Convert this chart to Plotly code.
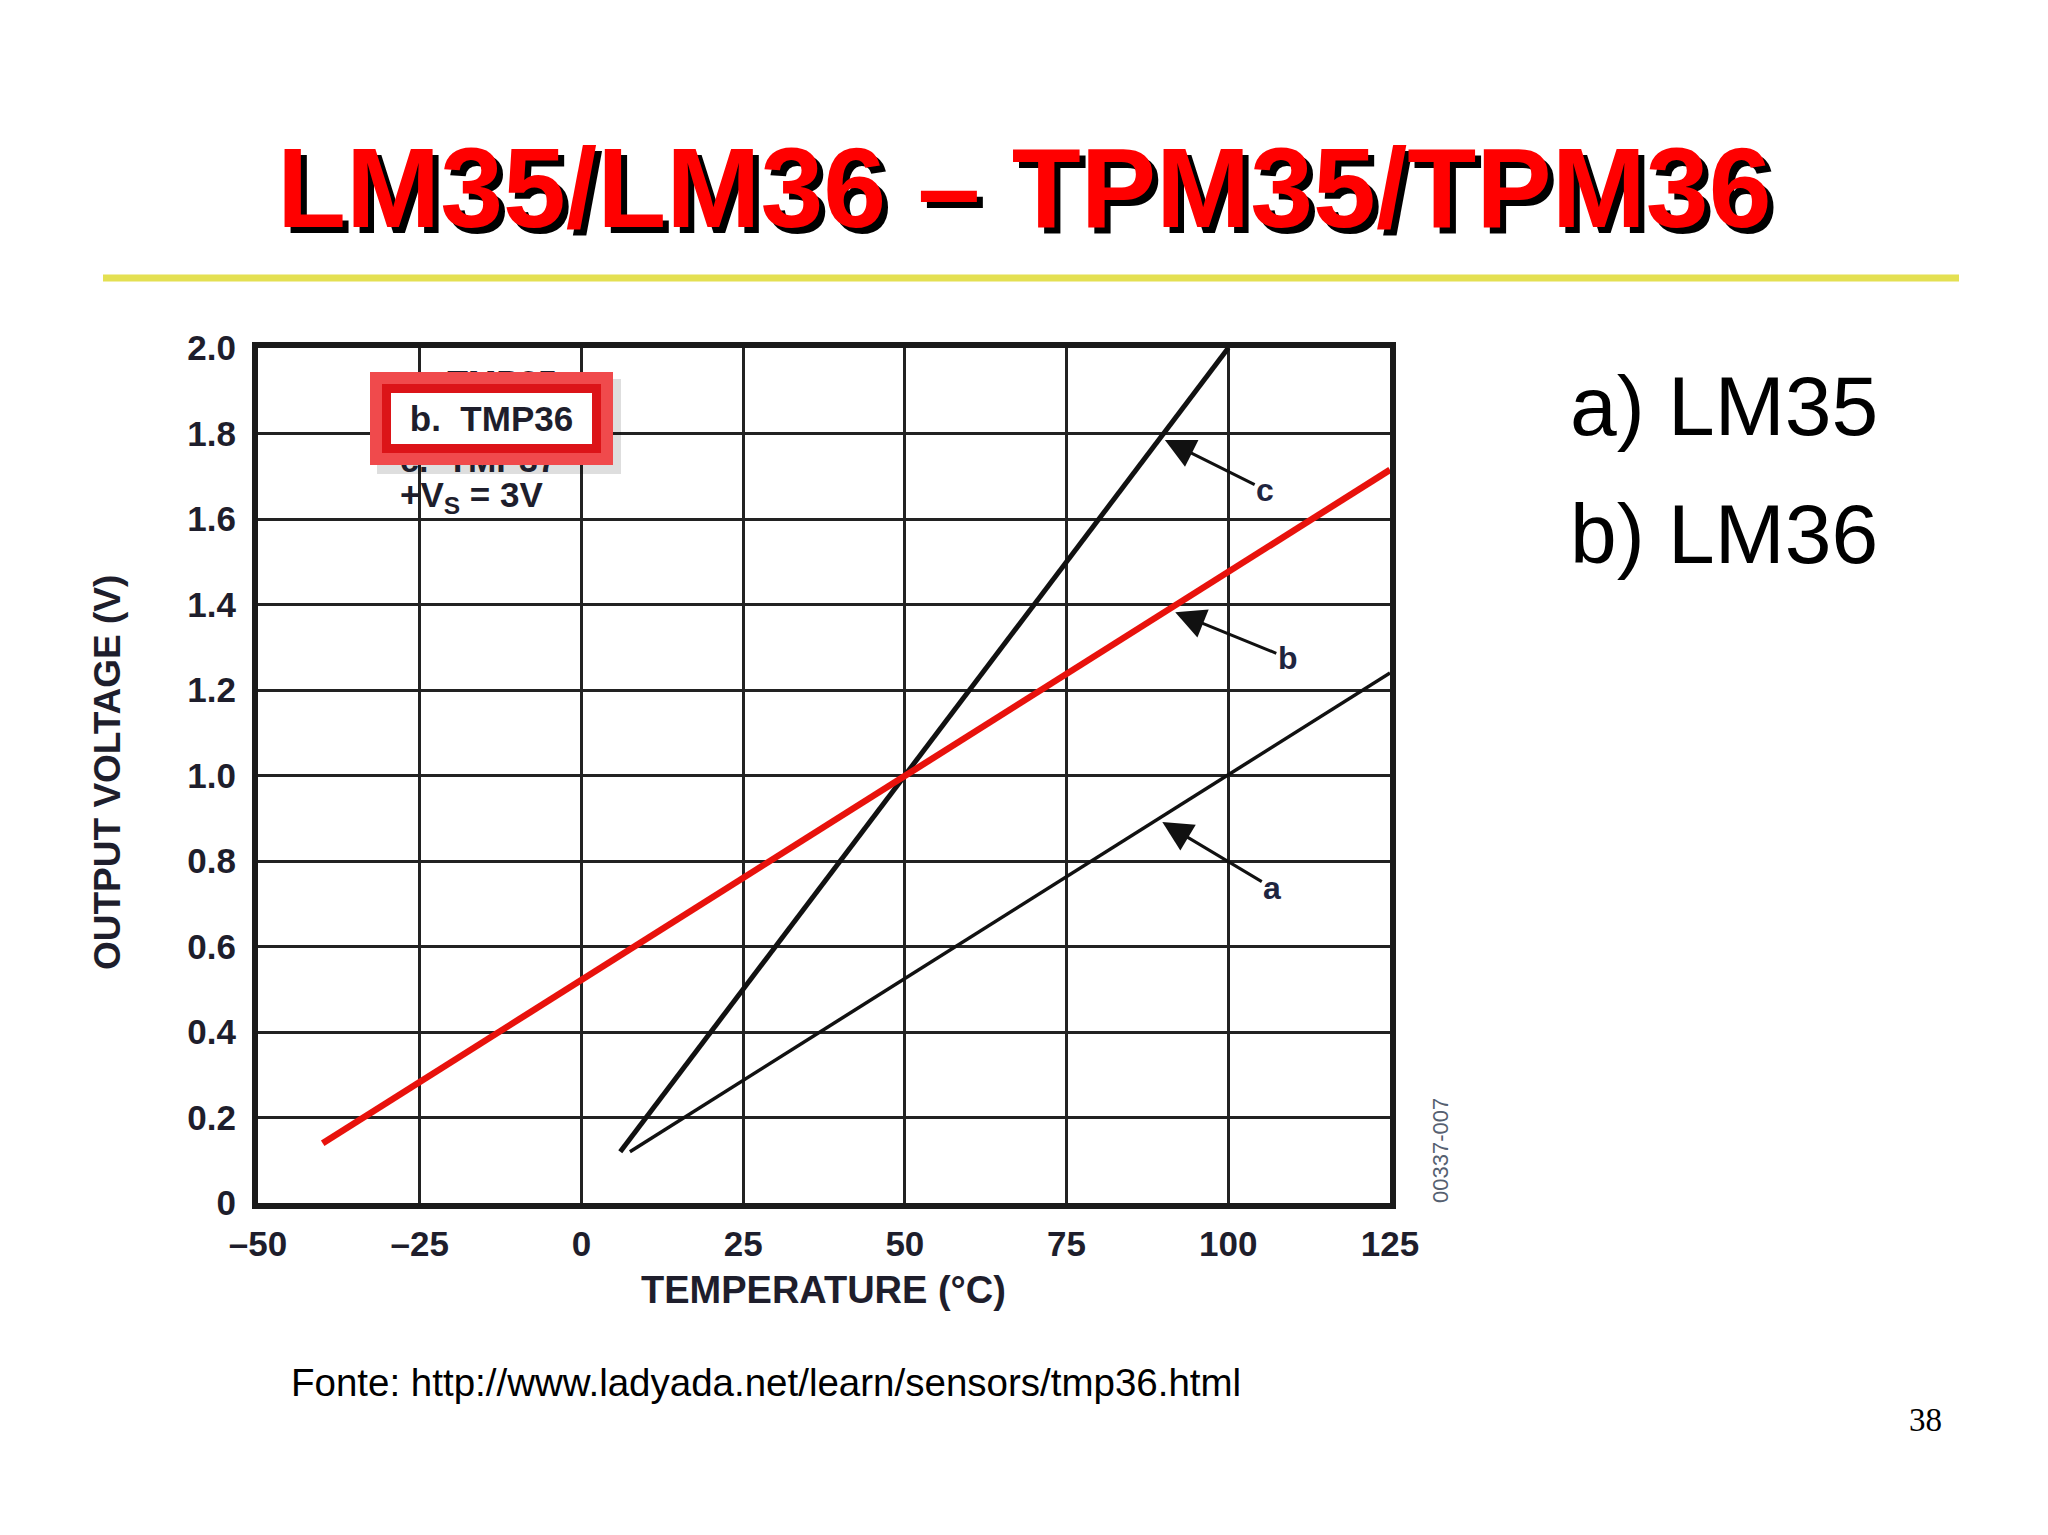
import plotly.graph_objects as go

# ---------------- data ----------------
temp_a = [7.5, 125]       # TMP35 (a)
volt_a = [0.12, 1.24]
temp_b = [-40, 125]       # TMP36 (b)
volt_b = [0.14, 1.715]
temp_c = [6, 100]         # TMP37 (c)
volt_c = [0.12, 2.0]

x_ticks = [-50, -25, 0, 25, 50, 75, 100, 125]
x_tick_labels = ["–50", "–25", "0", "25", "50", "75", "100", "125"]
y_ticks = [0, 0.2, 0.4, 0.6, 0.8, 1.0, 1.2, 1.4, 1.6, 1.8, 2.0]
y_tick_labels = ["0", "0.2", "0.4", "0.6", "0.8", "1.0", "1.2", "1.4", "1.6", "1.8", "2.0"]

title_text = "LM35/LM36 – TPM35/TPM36"
x_title = "TEMPERATURE (°C)"
y_title = "OUTPUT VOLTAGE (V)"
footer = "Fonte: http://www.ladyada.net/learn/sensors/tmp36.html"

# ---------------- layout helpers (screen pixel coords) ----------------
OFF = 8                       # page body margin
W, H = 2048 - OFF, 1535 - OFF
L, R, T, B = 258, 1390, 348, 1203   # plot area in screen pixels


def px(x):
    return (x - L) / (R - L)


def py(y):
    return (B - y) / (B - T)


SANS = "Liberation Sans, Arial, sans-serif"
INK = "#1e1e2c"

fig = go.Figure()
fig.add_trace(go.Scatter(x=temp_a, y=volt_a, mode="lines",
                         line=dict(color="#111111", width=3.5), showlegend=False))
fig.add_trace(go.Scatter(x=temp_c, y=volt_c, mode="lines",
                         line=dict(color="#111111", width=5), showlegend=False))
fig.add_trace(go.Scatter(x=temp_b, y=volt_b, mode="lines",
                         line=dict(color="#e8120c", width=6.5), showlegend=False))

axis_common = dict(
    showgrid=True, gridcolor="#222222", gridwidth=3,
    zeroline=False, showline=True, mirror=True, linewidth=6, linecolor="#1a1a1a",
    ticks="", tickfont=dict(family=SANS, size=35, color=INK, weight=700),
    fixedrange=True,
)
fig.update_xaxes(range=[-50, 125], tickvals=x_ticks, ticktext=x_tick_labels,
                 ticklabelstandoff=5, **axis_common)
fig.update_yaxes(range=[0, 2.0], tickvals=y_ticks, ticktext=y_tick_labels,
                 ticklabelstandoff=9, **axis_common)

shapes = []
# white legend area covering grid lines
shapes.append(dict(type="rect", xref="paper", yref="paper",
                   x0=px(392), x1=px(597), y0=py(527), y1=py(357),
                   fillcolor="white", line=dict(width=0), layer="between"))
# soft shadow of red box
shapes.append(dict(type="rect", xref="paper", yref="paper",
                   x0=px(377), x1=px(621), y0=py(474), y1=py(379),
                   fillcolor="rgba(0,0,0,0.13)", line=dict(width=0), layer="above"))
# yellow separator line
shapes.append(dict(type="line", xref="paper", yref="paper",
                   x0=px(103), x1=px(1959), y0=py(278), y1=py(278),
                   line=dict(color="#e4e052", width=7)))

ann = []


def text(x, y, s, size, color="#000", weight=400, family=SANS, xanchor="center",
         angle=0, **kw):
    d = dict(xref="paper", yref="paper", x=px(x), y=py(y), text=s, showarrow=False,
             xanchor=xanchor, yanchor="middle", textangle=angle,
             font=dict(family=family, size=size, color=color, weight=weight))
    d.update(kw)
    ann.append(d)


# title with shadow
text(1030, 194, title_text, 113, "#000000", 700)
text(1024, 188, title_text, 113, "#ff0000", 700)
# right-hand text
text(1568, 406, "a) LM35", 84, xanchor="left")
text(1568, 534, "b) LM36", 84, xanchor="left")
# axis titles
text(823, 1290, x_title, 38, INK, 700)
text(107, 773, y_title, 37, INK, 700, angle=-90)
# figure code
text(1440, 1151, "00337-007", 22, "#556070", angle=-90)
# legend block (a and c partly hidden behind the highlight box)
text(398, 382, "a.  TMP35", 34, INK, 700, xanchor="left")
text(398, 460, "c.  TMP37", 34, INK, 700, xanchor="left")
# outer light-red ring of the highlight box
text(491.5, 418.5, " ", 10, width=243, height=93, bgcolor="#f04a4c",
     borderwidth=0, borderpad=0)
# inner red border + white interior with highlighted label
text(491.5, 418.5, "b.  TMP36", 35, INK, 700, width=195, height=45, bgcolor="white",
     bordercolor="#dc1418", borderwidth=9, borderpad=3)
text(398, 497, "+V<sub>S</sub> = 3V", 35, INK, 700, xanchor="left")

# arrows a, b, c
for lab, tip, tail in [("c", (90.2, 1.785), (105.7, 1.668)),
                       ("b", (91.8, 1.382), (109.2, 1.275)),
                       ("a", (89.8, 0.891), (106.8, 0.737))]:
    ann.append(dict(xref="x", yref="y", axref="x", ayref="y",
                    x=tip[0], y=tip[1], ax=tail[0], ay=tail[1], text=lab,
                    showarrow=True, arrowhead=2, arrowsize=2.0, arrowwidth=3,
                    arrowcolor="#111111", standoff=0,
                    font=dict(family=SANS, size=32, color="#1f2540", weight=700)))
# footer and page number
text(289, 1382, footer, 38.5, xanchor="left")
text(1925, 1420, "38", 33, family="Liberation Serif, Times New Roman, serif")

fig.update_layout(
    width=W, height=H, autosize=False,
    margin=dict(l=L - OFF, r=W - (R - OFF), t=T - OFF, b=H - (B - OFF), pad=0),
    paper_bgcolor="white", plot_bgcolor="white",
    shapes=shapes, annotations=ann, showlegend=False,
)

fig.write_html("out.html")
